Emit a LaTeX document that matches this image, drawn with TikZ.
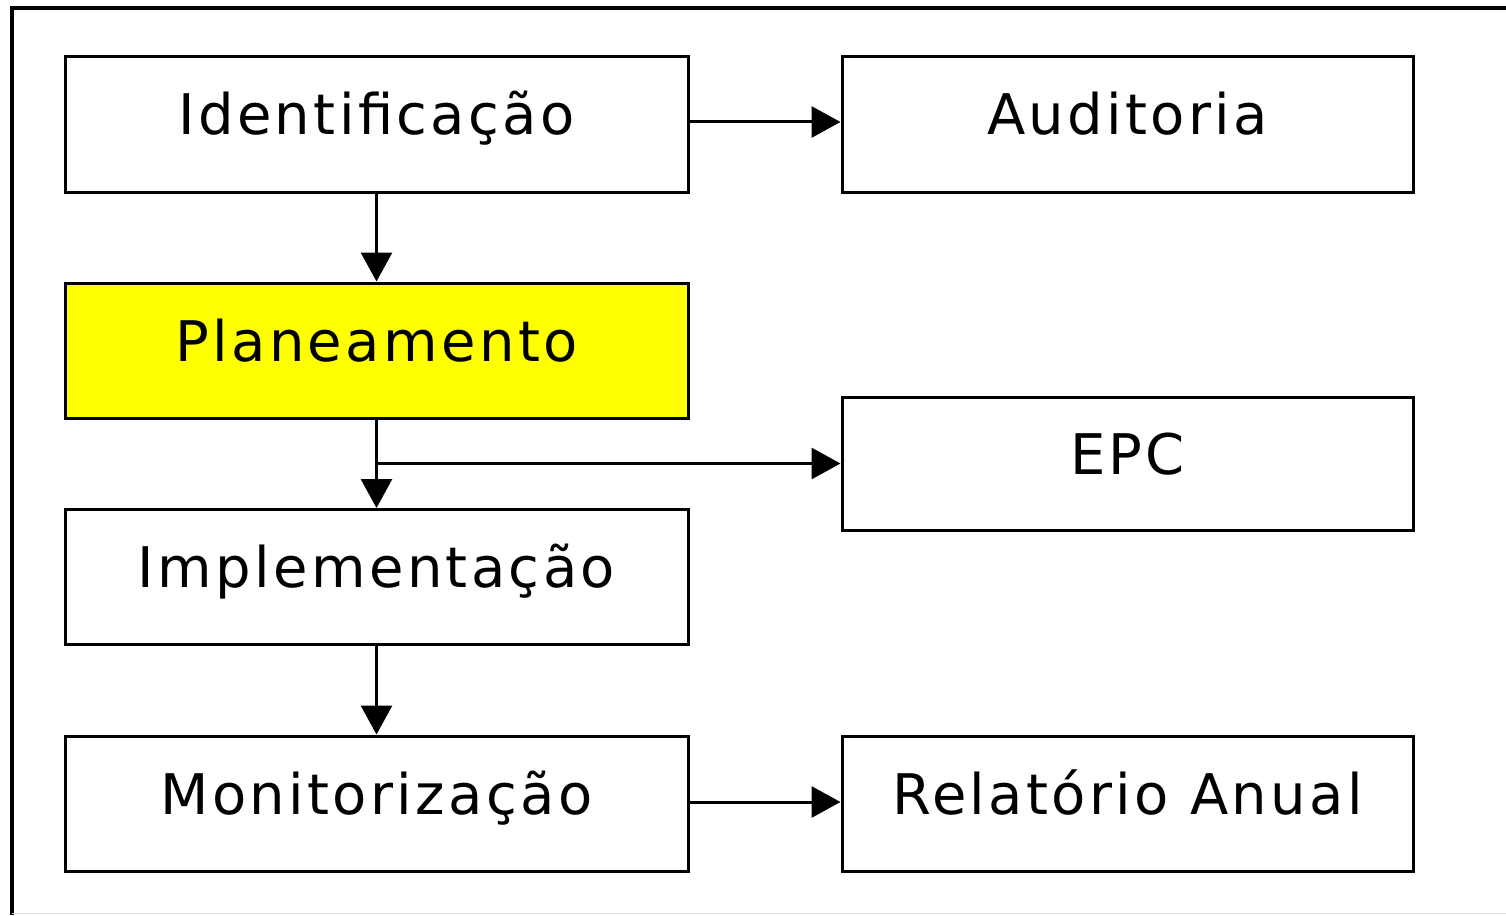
\documentclass[tikz,border=0pt]{standalone}
\usepackage{fontspec}
\newfontfamily\lblfont{DejaVu Sans}[LetterSpace=6]
\usetikzlibrary{arrows.meta}
\begin{document}
\begin{tikzpicture}[x=1pt,y=-1pt,
  box/.style={draw=black, line width=3pt, fill=white, inner sep=0pt,
    minimum width=623pt, minimum height=135pt,
    text height=41pt, text depth=20pt,
    font=\lblfont\fontsize{56}{60}\selectfont},
  rbox/.style={box, minimum width=571pt},
  arr/.style={line width=3pt, -{Triangle[length=29pt,width=31pt]}}]
\useasboundingbox (0,0) rectangle (1506,915);
\fill[white] (0,0) rectangle (1506,915);
% frame
\draw[line width=4pt] (12,915) -- (12,8) -- (1506,8);
\draw[line width=1.5pt, black!15] (12,913.5) -- (1506,913.5);
% boxes
\node[box] (ident) at (376.5,124.5) {Identificação};
\node[rbox] (audit) at (1127.5,124.5) {Auditoria};
\node[box, fill={rgb,255:red,255;green,255;blue,0}] (plan) at (376.5,350.5) {Planeamento};
\node[rbox, minimum height=133pt] (epc) at (1127.5,463.5) {EPC};
\node[box] (impl) at (376.5,577) {Implementação};
\node[box] (monit) at (376.5,803.5) {Monitorização};
\node[rbox] (rel) at (1127.5,803.5) {Relatório Anual};
% connectors
\draw[arr] ([yshift=2.5pt]ident.east) -- ([yshift=2.5pt]audit.west);
\draw[arr] (ident.south) -- (plan.north);
\draw[arr] (plan.south) -- (impl.north);
\draw[arr] (plan.south |- epc.west) -- (epc.west);
\draw[arr] (impl.south) -- (monit.north);
\draw[arr] ([yshift=1.5pt]monit.east) -- ([yshift=1.5pt]rel.west);
\end{tikzpicture}
\end{document}
